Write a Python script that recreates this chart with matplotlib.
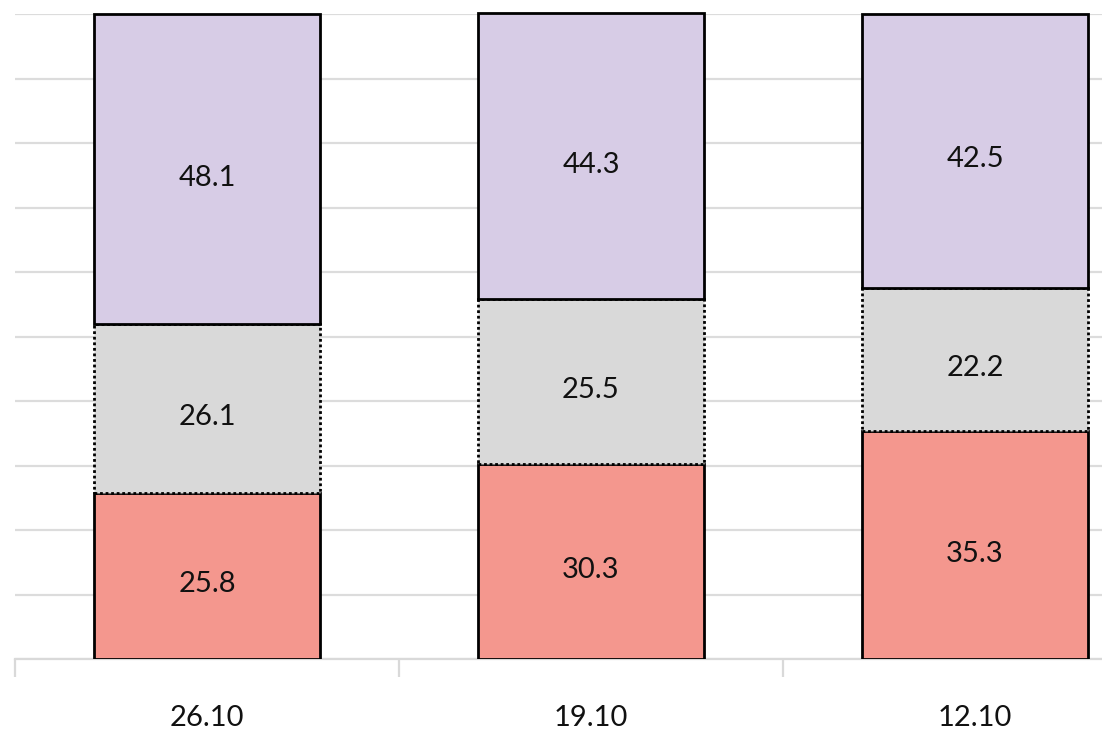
import matplotlib
matplotlib.use("Agg")
import matplotlib.pyplot as plt
import numpy as np

# Data
dates = ["26.10", "19.10", "12.10"]
bottom_vals = [25.8, 30.3, 35.3]
middle_vals = [26.1, 25.5, 22.2]
top_vals = [48.1, 44.3, 42.5]

colors = ["#f4978e", "#d9d9d9", "#d7cce6"]

plt.rcParams["font.family"] = ["Lato", "DejaVu Sans"]

fig = plt.figure(figsize=(11.02, 7.43), dpi=100)
# axes runs off the right edge, like the reference crop
ax = fig.add_axes([15 / 1102, (743 - 659) / 743, 1152 / 1102, 645 / 743])

x = np.arange(len(dates))
width = 0.59
lw = 2.0

b1 = ax.bar(x, bottom_vals, width, color=colors[0], edgecolor="black",
            linewidth=lw, zorder=3)
b2 = ax.bar(x, middle_vals, width, bottom=bottom_vals, color=colors[1],
            edgecolor="black", linewidth=lw, linestyle=(0, (1, 1)), zorder=3)
lower = np.array(bottom_vals) + np.array(middle_vals)
b3 = ax.bar(x, top_vals, width, bottom=lower, color=colors[2],
            edgecolor="black", linewidth=lw, zorder=3, clip_on=False)

# value labels inside the segments
for bars, vals, base in [(b1, bottom_vals, np.zeros(3)),
                         (b2, middle_vals, np.array(bottom_vals)),
                         (b3, top_vals, lower)]:
    for xi, v, b0 in zip(x, vals, base):
        ax.text(xi, b0 + v / 2 - 1.3, f"{v:.1f}", ha="center", va="center",
                fontsize=21, color="#111111", zorder=4)

ax.set_xlim(-0.5, 2.5)
ax.set_ylim(0, 100)
ax.set_yticks(np.arange(0, 101, 10))
ax.yaxis.grid(True, color="#dcdcdc", linewidth=1.6, zorder=0)
ax.tick_params(axis="y", left=False, labelleft=False)

ax.set_xticks(x)
ax.set_xticklabels(dates, fontsize=21, color="#111111")
ax.tick_params(axis="x", length=0, pad=33)
ax.set_xticks([-0.5, 0.5, 1.5, 2.5], minor=True)
ax.tick_params(axis="x", which="minor", length=13, width=1.6, color="#d9d9d9")

for s in ["top", "right", "left"]:
    ax.spines[s].set_visible(False)
ax.spines["bottom"].set_color("#d9d9d9")
ax.spines["bottom"].set_linewidth(1.6)

fig.savefig("out.png", dpi=100)
